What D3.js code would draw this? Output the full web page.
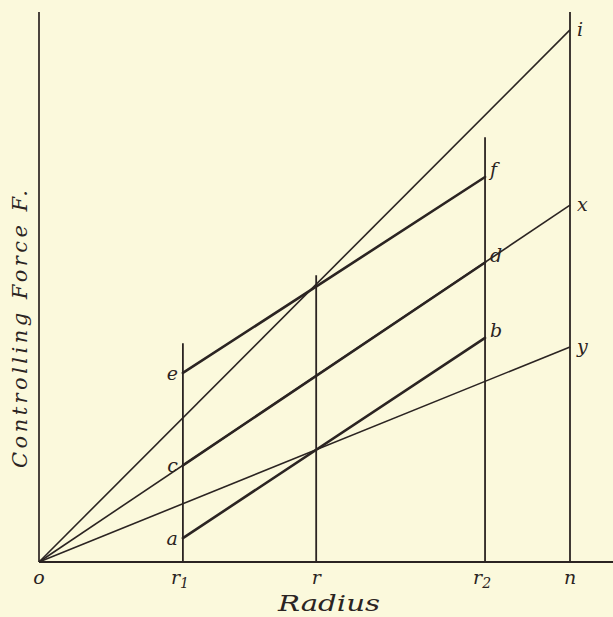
<!DOCTYPE html>
<html><head><meta charset="utf-8">
<script src="https://cdn.jsdelivr.net/npm/d3@7"></script>
<style>
html,body{margin:0;padding:0;background:#fbf9dc;}
svg{display:block;}
text{font-family:"DejaVu Serif",serif;font-style:italic;fill:#2b2422;}
</style></head>
<body>
<svg id="chart" width="613" height="617"></svg>
<script>
// Radius positions (arbitrary units, n = 100)
const tickNames = ["o", "r", "r", "r", "n"];
const tickSubs  = ["", "1", "", "2", ""];
const tickValues = [0, 27.1, 52.2, 84.0, 100];
// Vertical ordinate lines at r1, r, r2, n and their upper ends (force units)
const verticalX   = [27.1, 52.2, 84.0, 100];
const verticalTop = [41.2, 54.0, 80.0, 103.6];
const axisYTop = 103.6;
const axisXEnd = 108.1;
// Straight lines through the origin, ending on n
const rayNames = ["i", "x", "y"];
const rayEnd   = [100.2, 67.2, 40.5];
// Segments between r1 and r2
const segStartNames = ["a", "c", "e"];
const segEndNames   = ["b", "d", "f"];
const segStart = [4.5, 18.2, 35.6];
const segEnd   = [42.2, 56.4, 72.5];

const svg = d3.select("#chart");
const x = d3.scaleLinear().domain([0, 100]).range([39, 570]);
const y = d3.scaleLinear().domain([0, 100]).range([562, 31]);
const ink = "#2b2422";

// axes
svg.append("line").attr("x1", x(0)).attr("y1", y(0)).attr("x2", x(0)).attr("y2", y(axisYTop))
  .attr("stroke", ink).attr("stroke-width", 1.7);
svg.append("line").attr("x1", x(0)).attr("y1", y(0)).attr("x2", x(axisXEnd)).attr("y2", y(0))
  .attr("stroke", ink).attr("stroke-width", 2);

// verticals
svg.selectAll("line.v").data(verticalX).join("line").attr("class", "v")
  .attr("x1", d => x(d)).attr("x2", d => x(d))
  .attr("y1", y(0)).attr("y2", (d, i) => y(verticalTop[i]))
  .attr("stroke", ink).attr("stroke-width", 1.8);

// rays from origin
svg.selectAll("line.ray").data(rayEnd).join("line").attr("class", "ray")
  .attr("x1", x(0)).attr("y1", y(0)).attr("x2", x(100)).attr("y2", d => y(d))
  .attr("stroke", ink).attr("stroke-width", 1.6);

// thick segments r1 -> r2
svg.selectAll("line.seg").data(segStart).join("line").attr("class", "seg")
  .attr("x1", x(verticalX[0])).attr("y1", d => y(d))
  .attr("x2", x(verticalX[2])).attr("y2", (d, i) => y(segEnd[i]))
  .attr("stroke", ink).attr("stroke-width", 2.6).attr("stroke-linecap", "round");

// point labels
svg.selectAll("text.sl").data(segStartNames).join("text").attr("class", "sl")
  .attr("x", x(verticalX[0]) - 5).attr("y", (d, i) => y(segStart[i]) + 7)
  .attr("text-anchor", "end").attr("font-size", 19).text(d => d);
svg.selectAll("text.el").data(segEndNames).join("text").attr("class", "el")
  .attr("x", x(verticalX[2]) + 5).attr("y", (d, i) => y(segEnd[i]) - 1)
  .attr("font-size", 19).text(d => d);
svg.selectAll("text.rl").data(rayNames).join("text").attr("class", "rl")
  .attr("x", x(100) + 7).attr("y", (d, i) => y(rayEnd[i]) + 6)
  .attr("font-size", 19).text(d => d);

// tick labels
const tl = svg.selectAll("text.tick").data(tickNames).join("text").attr("class", "tick")
  .attr("x", (d, i) => x(tickValues[i]) - (tickSubs[i] ? 3 : 0))
  .attr("y", y(0) + 22).attr("text-anchor", "middle").attr("font-size", 19);
tl.append("tspan").text(d => d);
tl.append("tspan").attr("dy", 4).attr("font-size", 14).text((d, i) => tickSubs[i]);

// axis titles
svg.append("text").attr("x", 278).attr("y", 611).attr("font-size", 22)
  .attr("textLength", 102).attr("lengthAdjust", "spacingAndGlyphs").text("Radius");
svg.append("text").attr("transform", "translate(27,468) rotate(-90)")
  .attr("font-size", 21).attr("textLength", 278).attr("lengthAdjust", "spacing")
  .text("Controlling Force F.");
</script>
</body></html>
